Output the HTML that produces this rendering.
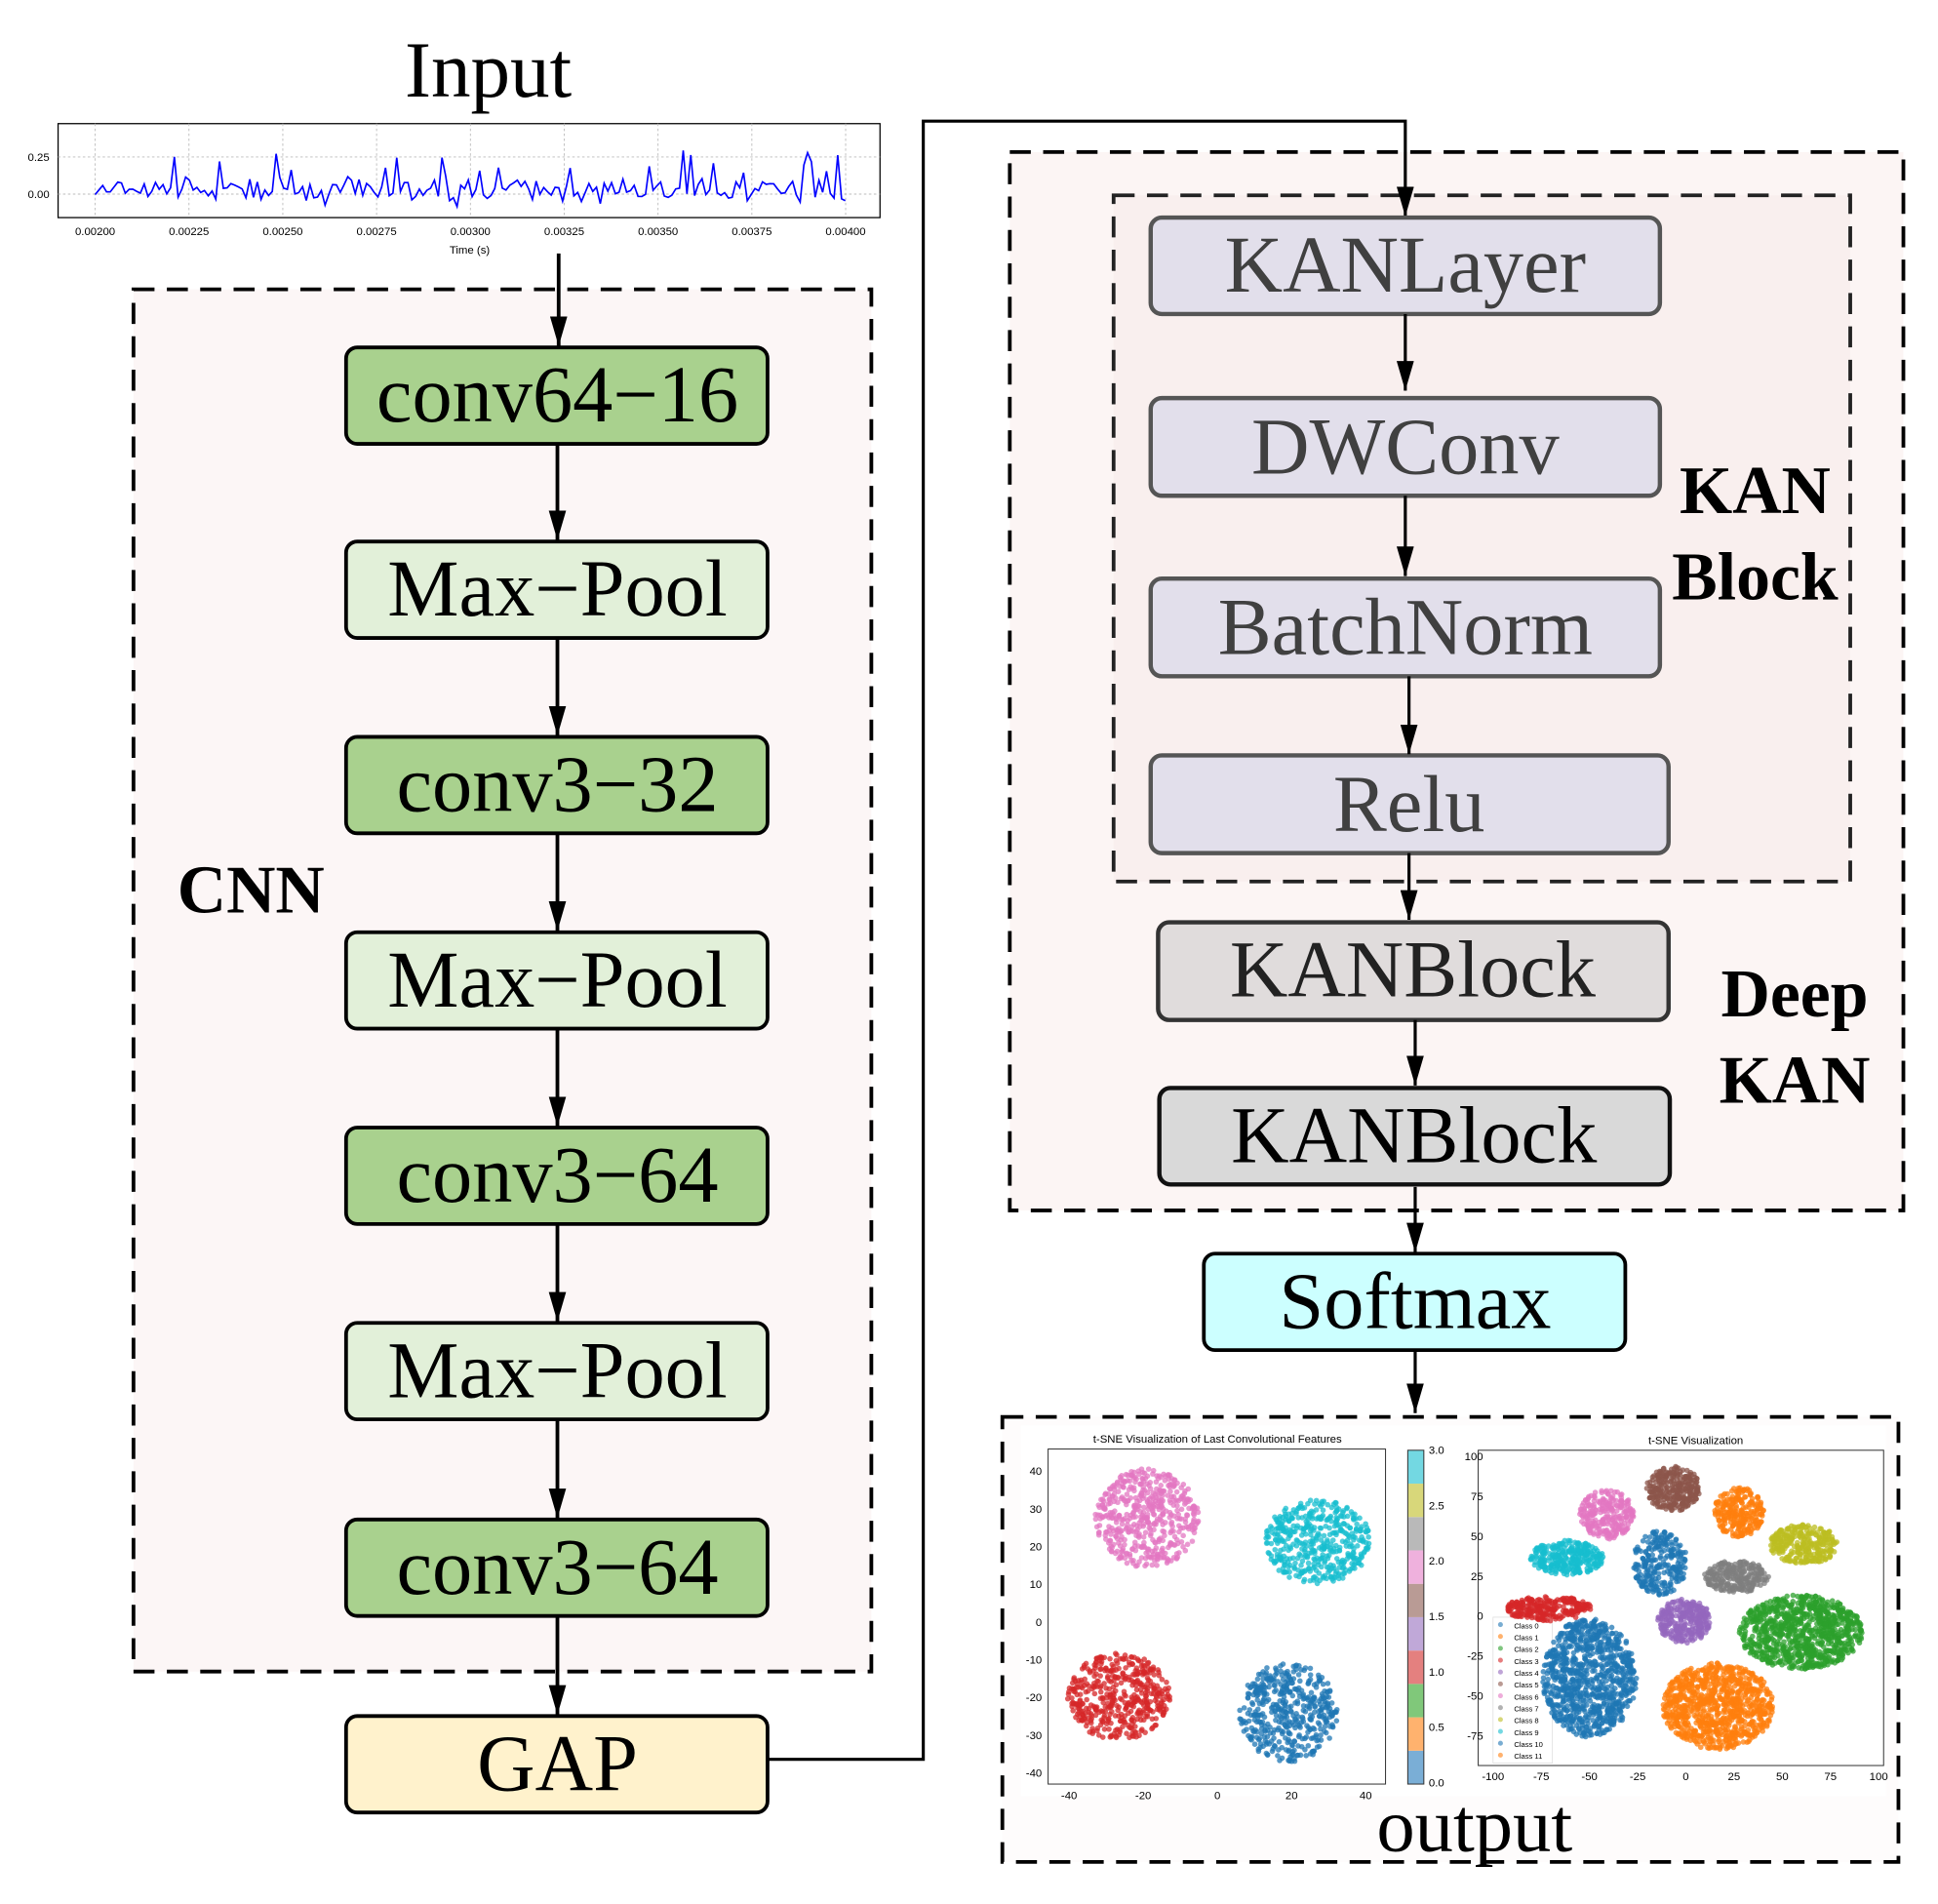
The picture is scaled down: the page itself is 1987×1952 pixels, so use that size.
<!DOCTYPE html>
<html><head><meta charset="utf-8"><style>
html,body{margin:0;padding:0;background:#fff;}
svg{display:block;}
.bx{font-family:"Liberation Serif",serif;font-size:65px;text-anchor:middle;}
.lb{font-family:"Liberation Serif",serif;font-size:55px;font-weight:bold;text-anchor:middle;}
.sm{font-family:"Liberation Sans",sans-serif;font-size:9px;}
</style></head><body>
<svg id="s" width="1987" height="1952" viewBox="0 0 1568 1540" preserveAspectRatio="none" xmlns="http://www.w3.org/2000/svg">
<defs>
<marker id="ar" markerWidth="24" markerHeight="14" refX="24" refY="7" orient="auto" markerUnits="userSpaceOnUse" viewBox="0 0 24 14"><path d="M0,0 L24,7 L0,14z" fill="#000"/></marker></defs>
<rect width="1568" height="1540" fill="#fff"/>
<text x="395" y="78" font-family="Liberation Serif,serif" font-size="64" text-anchor="middle">Input</text>
<rect x="47" y="100" width="665" height="76" fill="#fff" stroke="#000" stroke-width="1"/>
<g id="grid" stroke="#bbb" stroke-dasharray="2,2" stroke-width="0.7"></g>
<polyline id="sig" fill="none" stroke="#0000ff" stroke-width="1.3"/>
<g id="xt" class="sm" font-size="9"></g>
<text x="40" y="130" class="sm" text-anchor="end">0.25</text>
<text x="40" y="160" class="sm" text-anchor="end">0.00</text>
<text x="380" y="205" class="sm" text-anchor="middle">Time (s)</text>
<rect x="108" y="234" width="597" height="1118" fill="#fcf6f6" stroke="#000" stroke-width="3" stroke-dasharray="17,10"/>
<text x="203" y="738" class="lb">CNN</text>
<line x1="452" y1="205" x2="452" y2="280" stroke="#000" stroke-width="3" marker-end="url(#ar)"/>
<g stroke="#000" stroke-width="3">
<rect x="280" y="281" width="341" height="78" rx="9" fill="#a9d18e"/>
<rect x="280" y="438" width="341" height="78" rx="9" fill="#e2f0d9"/>
<rect x="280" y="596" width="341" height="78" rx="9" fill="#a9d18e"/>
<rect x="280" y="754" width="341" height="78" rx="9" fill="#e2f0d9"/>
<rect x="280" y="912" width="341" height="78" rx="9" fill="#a9d18e"/>
<rect x="280" y="1070" width="341" height="78" rx="9" fill="#e2f0d9"/>
<rect x="280" y="1229" width="341" height="78" rx="9" fill="#a9d18e"/>
<rect x="280" y="1388" width="341" height="78" rx="9" fill="#fff2cc"/>
<line x1="451" y1="359" x2="451" y2="437" marker-end="url(#ar)"/>
<line x1="451" y1="516" x2="451" y2="595" marker-end="url(#ar)"/>
<line x1="451" y1="674" x2="451" y2="753" marker-end="url(#ar)"/>
<line x1="451" y1="832" x2="451" y2="911" marker-end="url(#ar)"/>
<line x1="451" y1="990" x2="451" y2="1069" marker-end="url(#ar)"/>
<line x1="451" y1="1148" x2="451" y2="1228" marker-end="url(#ar)"/>
<line x1="451" y1="1307" x2="451" y2="1387" marker-end="url(#ar)"/>
</g>
<g class="bx">
<text x="451" y="341">conv64−16</text>
<text x="451" y="498">Max−Pool</text>
<text x="451" y="656">conv3−32</text>
<text x="451" y="814">Max−Pool</text>
<text x="451" y="972">conv3−64</text>
<text x="451" y="1130">Max−Pool</text>
<text x="451" y="1289">conv3−64</text>
<text x="451" y="1448">GAP</text>
</g>
<rect x="817" y="123" width="723" height="856" fill="#fcf5f4" stroke="#000" stroke-width="3" stroke-dasharray="17,10"/>
<rect x="901" y="158" width="596" height="555" fill="#f9efee" stroke="#222" stroke-width="3" stroke-dasharray="17,10"/>
<polyline points="621,1423 747,1423 747,98 1137,98 1137,175" fill="none" stroke="#000" stroke-width="2.5" marker-end="url(#ar)"/>
<g stroke="#555" stroke-width="3.5" fill="#e2dfeb">
<rect x="931" y="176" width="412" height="78" rx="9"/>
<rect x="931" y="322" width="412" height="79" rx="9"/>
<rect x="931" y="468" width="412" height="79" rx="9"/>
<rect x="931" y="611" width="419" height="79" rx="9"/>
<rect x="937" y="746" width="413" height="79" rx="9" fill="#e0dcdc" stroke="#333"/>
<rect x="938" y="880" width="413" height="78" rx="9" fill="#d9d9d9" stroke="#111"/>
</g>
<g stroke="#000" stroke-width="2.5">
<line x1="1137" y1="254" x2="1137" y2="316" marker-end="url(#ar)"/>
<line x1="1137" y1="401" x2="1137" y2="466" marker-end="url(#ar)"/>
<line x1="1140" y1="547" x2="1140" y2="610" marker-end="url(#ar)"/>
<line x1="1140" y1="690" x2="1140" y2="744" marker-end="url(#ar)"/>
<line x1="1145" y1="825" x2="1145" y2="878" marker-end="url(#ar)"/>
<line x1="1145" y1="960" x2="1145" y2="1013" marker-end="url(#ar)"/>
<line x1="1145" y1="1092" x2="1145" y2="1143" marker-end="url(#ar)"/>
</g>
<g class="bx">
<text x="1137" y="236" fill="#404040">KANLayer</text>
<text x="1137" y="383" fill="#404040">DWConv</text>
<text x="1137" y="529" fill="#404040">BatchNorm</text>
<text x="1140" y="672" fill="#404040">Relu</text>
<text x="1143" y="806" fill="#222">KANBlock</text>
<text x="1144" y="940">KANBlock</text>
</g>
<text x="1420" y="415" class="lb">KAN</text>
<text x="1420" y="485" class="lb">Block</text>
<text x="1452" y="822" class="lb">Deep</text>
<text x="1452" y="892" class="lb">KAN</text>
<rect x="974" y="1014" width="341" height="78" rx="9" fill="#ccffff" stroke="#000" stroke-width="3"/>
<text x="1145" y="1074" class="bx">Softmax</text>
<rect x="811" y="1146" width="725" height="360" fill="#fefcfc" stroke="#000" stroke-width="3" stroke-dasharray="17,10"/>
<rect x="826" y="1153" width="700" height="300" fill="#fff"/>
<text x="985" y="1167" class="sm" text-anchor="middle">t-SNE Visualization of Last Convolutional Features</text>
<rect x="848" y="1172" width="273" height="271" fill="#fff" stroke="#333" stroke-width="0.8"/>
<text x="1372" y="1168" class="sm" text-anchor="middle">t-SNE Visualization</text>
<rect x="1196" y="1173" width="328" height="255" fill="#fff" stroke="#333" stroke-width="0.8"/>
<g id="cb"></g>
<g id="pts"></g>
<g id="ticks" class="sm" font-size="8"></g>
<text x="1193" y="1497" font-family="Liberation Serif,serif" font-size="62" text-anchor="middle">output</text>
</svg>
<script>
var NS="http://www.w3.org/2000/svg";
function el(p,t,a,txt){var e=document.createElementNS(NS,t);for(var k in a)e.setAttribute(k,a[k]);if(txt!==undefined)e.textContent=txt;p.appendChild(e);return e;}
var seed=7;function r(){seed=(seed*16807)%2147483647;return (seed-1)/2147483646;}
function g(){return (r()+r()+r()-1.5)/1.5;}
var grid=document.getElementById('grid');
for(var i=0;i<9;i++){var x=77+i*75.9;el(grid,'line',{x1:x,y1:100,x2:x,y2:176});}
el(grid,'line',{x1:47,y1:127,x2:712,y2:127});el(grid,'line',{x1:47,y1:157,x2:712,y2:157});
var xt=document.getElementById('xt');var lbl=['0.00200','0.00225','0.00250','0.00275','0.00300','0.00325','0.00350','0.00375','0.00400'];
for(var i=0;i<9;i++)el(xt,'text',{x:77+i*75.9,y:190,'text-anchor':'middle'},lbl[i]);
var pts=[];for(var i=0;i<200;i++){var v=g()*0.12+0.02;if(r()<0.12)v+=0.15+r()*0.15;var x=77+i*3.05;if(x>684)break;pts.push(x.toFixed(1)+','+(157-v*120).toFixed(1));}
document.getElementById('sig').setAttribute('points',pts.join(' '));
var P=document.getElementById('pts');
function blob(cx,cy,rx,ry,col,n,rad){for(var i=0;i<n;i++){var a=r()*6.283,d=Math.sqrt(r());el(P,'circle',{cx:cx+Math.cos(a)*rx*d,cy:cy+Math.sin(a)*ry*d,r:rad,fill:col,'fill-opacity':0.75});}}
blob(928,1228,42,40,'#e377c2',500,2.2);
blob(1066,1247,43,34,'#17becf',450,2.2);
blob(905,1372,42,35,'#d62728',450,2.2);
blob(1042,1385,40,40,'#1f77b4',450,2.2);
blob(1286,1357,38,48,'#1f77b4',900,2.2);
blob(1390,1380,45,35,'#ff7f0e',900,2.2);
blob(1457,1320,50,30,'#2ca02c',900,2.2);
blob(1363,1311,22,18,'#9467bd',300,2.2);
blob(1354,1204,22,18,'#8c564b',300,2.2);
blob(1407,1223,20,20,'#ff7f0e',250,2.2);
blob(1460,1249,28,16,'#bcbd22',300,2.2);
blob(1405,1275,26,13,'#7f7f7f',250,2.2);
blob(1343,1264,22,26,'#1f77b4',250,2.2);
blob(1300,1225,22,20,'#e377c2',250,2.2);
blob(1268,1260,30,14,'#17becf',300,2.2);
blob(1253,1301,35,10,'#d62728',250,2.2);
var cb=document.getElementById('cb');var cols=['#7aaed6','#ffb26e','#80c87a','#e4807f','#c0a8d8','#b99b95','#efb1dd','#b9b9b9','#d8d77a','#73d8e2'];
for(var i=0;i<10;i++)el(cb,'rect',{x:1139,y:1443-(i+1)*27,width:13,height:27,fill:cols[i]});
el(cb,'rect',{x:1139,y:1173,width:13,height:270,fill:'none',stroke:'#333','stroke-width':0.8});
el(cb,'rect',{x:1208,y:1308,width:48,height:118,fill:'#fff',stroke:'#ddd','stroke-width':0.6});
var T=document.getElementById('ticks');
var yl=['40','30','20','10','0','-10','-20','-30','-40'];for(var i=0;i<9;i++)el(T,'text',{x:843,y:1193+i*30.5,'text-anchor':'end'},yl[i]);
var xl=['-40','-20','0','20','40'];for(var i=0;i<5;i++)el(T,'text',{x:865+i*60,y:1455,'text-anchor':'middle'},xl[i]);
var cl=['3.0','2.5','2.0','1.5','1.0','0.5','0.0'];for(var i=0;i<7;i++)el(T,'text',{x:1156,y:1176+i*44.8},cl[i]);
var ry=['100','75','50','25','0','-25','-50','-75'];for(var i=0;i<8;i++)el(T,'text',{x:1200,y:1181+i*32.3,'text-anchor':'end'},ry[i]);
var rx=['-100','-75','-50','-25','0','25','50','75','100'];for(var i=0;i<9;i++)el(T,'text',{x:1208+i*39,y:1440,'text-anchor':'middle'},rx[i]);
for(var i=0;i<12;i++){el(T,'circle',{cx:1214,cy:1314+i*9.6,r:2,fill:['#1f77b4','#ff7f0e','#2ca02c','#d62728','#9467bd','#8c564b','#e377c2','#7f7f7f','#bcbd22','#17becf','#1f77b4','#ff7f0e'][i],'fill-opacity':0.6});el(T,'text',{x:1225,y:1317+i*9.6,'font-size':6},'Class '+i);}
</script>
</body></html>
